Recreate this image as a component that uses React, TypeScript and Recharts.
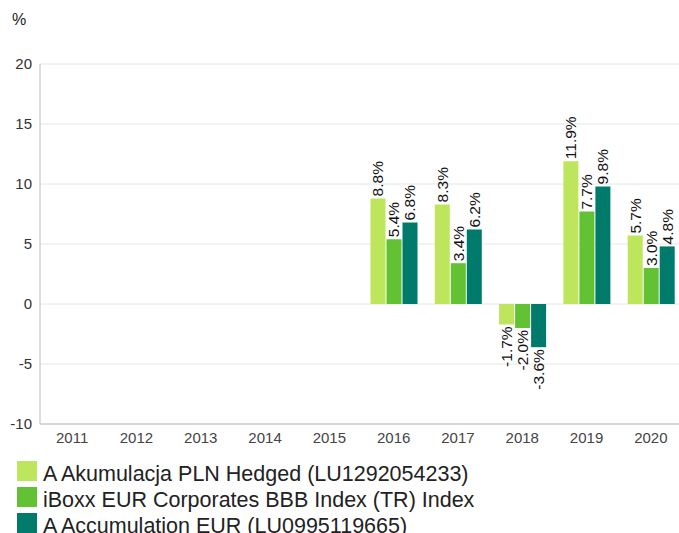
import { BarChart, Bar, XAxis, YAxis, CartesianGrid, LabelList } from "recharts";

const years = ["2011", "2012", "2013", "2014", "2015", "2016", "2017", "2018", "2019", "2020"];
const plnHedged = [null, null, null, null, null, 8.8, 8.3, -1.7, 11.9, 5.7];
const iboxxIndex = [null, null, null, null, null, 5.4, 3.4, -2.0, 7.7, 3.0];
const accumEur = [null, null, null, null, null, 6.8, 6.2, -3.6, 9.8, 4.8];
const yTicks = [-10, -5, 0, 5, 10, 15, 20];

const SERIES = [
  { key: "pln", name: "A Akumulacja PLN Hedged (LU1292054233)", color: "#bde65c" },
  { key: "idx", name: "iBoxx EUR Corporates BBB Index (TR) Index", color: "#62c233" },
  { key: "eur", name: "A Accumulation EUR (LU0995119665)", color: "#007a6a" },
];

const data = years.map((year, i) => ({
  year,
  pln: plnHedged[i],
  idx: iboxxIndex[i],
  eur: accumEur[i],
}));

const FONT = '"Liberation Sans", Arial, sans-serif';

// rotated value label, above positive bars and below negative ones
const RotatedLabel = (props: any) => {
  const { x, y, width, height, value } = props;
  if (value === null || value === undefined) return null;
  const top = Math.min(y, y + height);
  const bottom = Math.max(y, y + height);
  const cx = x + width / 2;
  const neg = value < 0;
  const ty = neg ? bottom + 2 : top - 2;
  return (
    <text
      x={cx}
      y={ty}
      transform={`rotate(-90, ${cx}, ${ty})`}
      textAnchor={neg ? "end" : "start"}
      dominantBaseline="central"
      fontSize={15.5}
      fill="#111"
      fontFamily={FONT}
    >
      {`${value.toFixed(1)}%`}
    </text>
  );
};

export default function App() {
  return (
    <div style={{ position: "absolute", left: 0, top: 0, width: 679, height: 533, overflow: "hidden", background: "#fff", fontFamily: FONT }}>
      <div style={{ position: "absolute", left: 12, top: 11, fontSize: 16, color: "#222" }}>%</div>
      <BarChart
        width={683}
        height={455}
        data={data}
        margin={{ top: 64, right: 0, left: 0, bottom: 0 }}
        barSize={15}
        barGap={1}
      >
        <CartesianGrid vertical={false} stroke="#e6e6e6" />
        <XAxis
          dataKey="year"
          height={31}
          tickLine={false}
          axisLine={{ stroke: "#bbb" }}
          tick={{ fontSize: 15, fill: "#444", fontFamily: FONT }}
          interval={0}
        />
        <YAxis
          width={40}
          domain={[-10, 20]}
          ticks={yTicks}
          tickLine={false}
          axisLine={{ stroke: "#bbb" }}
          tick={{ fontSize: 15, fill: "#333", fontFamily: FONT }}
          interval={0}
        />
        {SERIES.map((s) => (
          <Bar key={s.key} dataKey={s.key} name={s.name} fill={s.color} isAnimationActive={false}>
            <LabelList dataKey={s.key} content={<RotatedLabel />} />
          </Bar>
        ))}
      </BarChart>
      <div style={{ position: "absolute", left: 17, top: 461 }}>
        {SERIES.map((s) => (
          <div key={s.key} style={{ display: "flex", alignItems: "center", height: 26 }}>
            <span style={{ width: 20, height: 20, background: s.color, display: "inline-block", marginRight: 6, flexShrink: 0, alignSelf: "flex-start" }} />
            <span style={{ fontSize: 21.5, color: "#222", whiteSpace: "nowrap", lineHeight: "20px" }}>{s.name}</span>
          </div>
        ))}
      </div>
    </div>
  );
}
